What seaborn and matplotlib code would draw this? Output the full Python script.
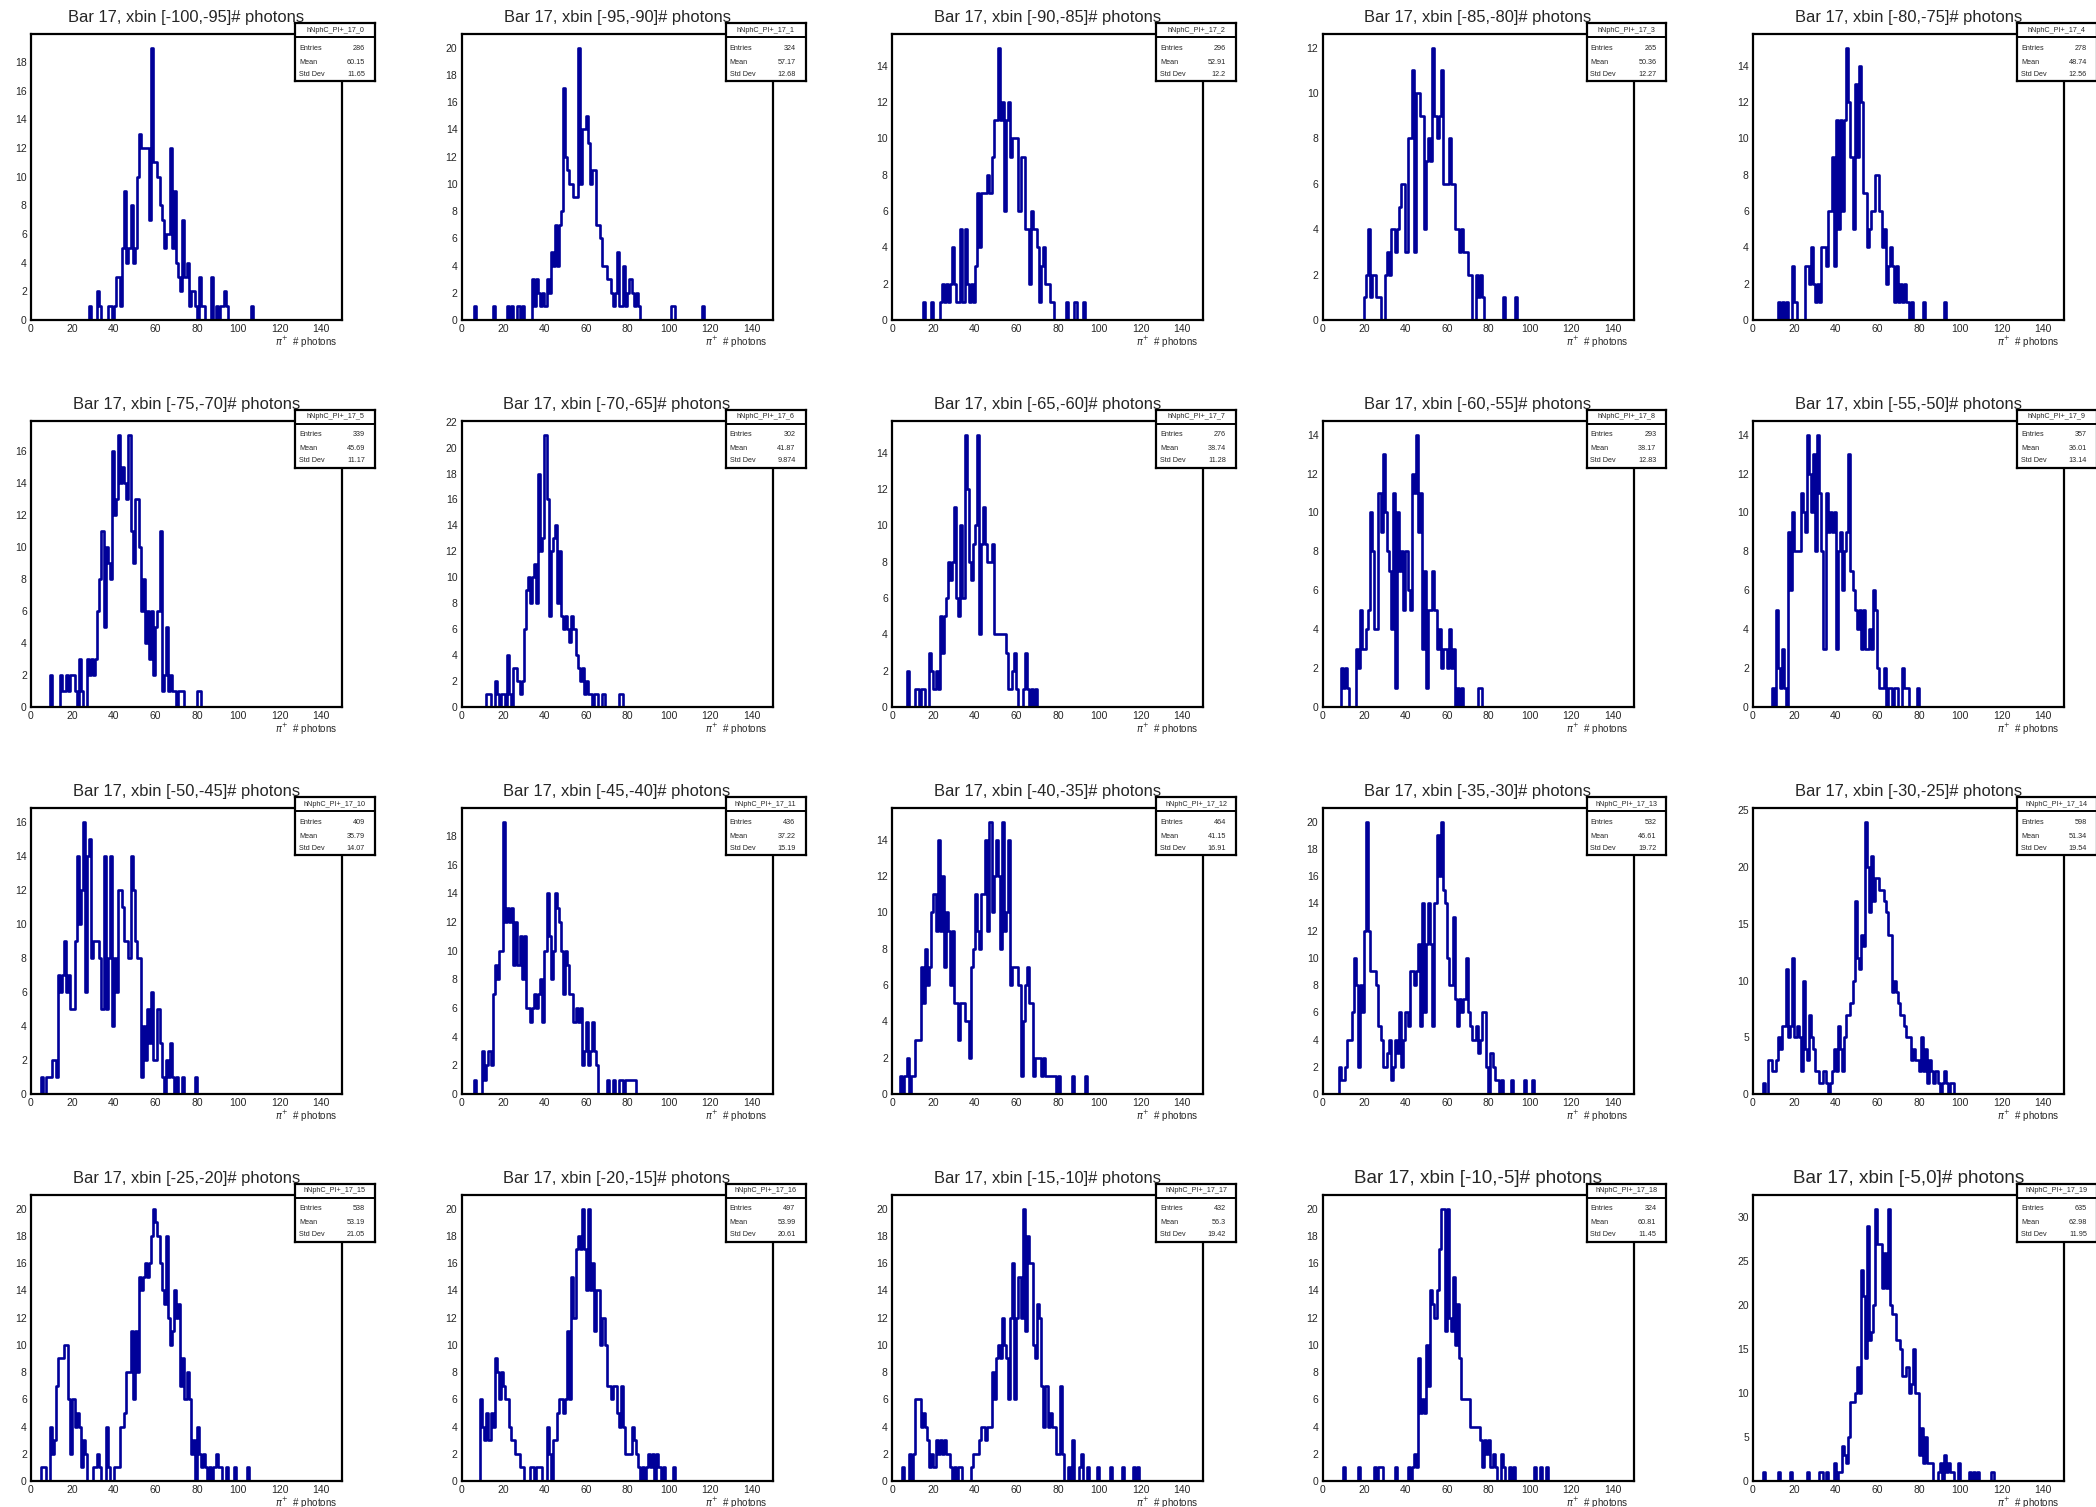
import numpy as np
import pandas as pd
import seaborn as sns
from matplotlib import pyplot as plt
from matplotlib.ticker import MultipleLocator

# %% Data: per panel the first filled bin and the counts of the 1-photon bins

xbins = ['[-100,-95]', '[-95,-90]', '[-90,-85]', '[-85,-80]', '[-80,-75]',
         '[-75,-70]', '[-70,-65]', '[-65,-60]', '[-60,-55]', '[-55,-50]',
         '[-50,-45]', '[-45,-40]', '[-40,-35]', '[-35,-30]', '[-30,-25]',
         '[-25,-20]', '[-20,-15]', '[-15,-10]', '[-10,-5]', '[-5,0]']

entries = [286, 324, 296, 265, 278, 339, 302, 276, 293, 357,
           409, 436, 464, 532, 598, 538, 497, 432, 324, 635]
means = ['60.15', '57.17', '52.91', '50.36', '48.74', '45.69', '41.87', '38.74', '38.17', '36.01',
         '35.79', '37.22', '41.15', '46.61', '51.34', '53.19', '53.99', '56.3', '60.81', '62.98']
stddevs = ['11.65', '12.68', '12.2', '12.27', '12.56', '11.17', '9.874', '11.28', '12.83', '13.14',
           '14.07', '15.19', '16.91', '19.72', '19.54', '21.05', '20.61', '19.42', '11.45', '11.95']

starts = [28, 6, 15, 20, 12, 9, 12, 7, 9, 9,
          5, 6, 4, 8, 5, 5, 9, 5, 10, 5]

c00 = [1, 0, 0, 0, 2, 1, 0, 0, 0, 1,
       1, 0, 1, 3, 3, 1, 5, 9, 4, 5,
       8, 4, 5, 10, 13, 12, 12, 12, 12, 7,
       19, 11, 11, 10, 8, 7, 5, 6, 6, 12,
       5, 9, 4, 3, 2, 7, 3, 4, 1, 2,
       2, 1, 0, 3, 1, 1, 0, 0, 0, 3,
       0, 1, 0, 1, 1, 2, 1, 0, 0, 0,
       0, 0, 0, 0, 0, 0, 0, 0, 1]
c01 = [1, 0, 0, 0, 0, 0, 0, 0, 0, 1,
       0, 0, 0, 0, 0, 0, 1, 0, 1, 0,
       0, 1, 0, 1, 0, 0, 0, 0, 3, 1,
       3, 2, 1, 2, 1, 3, 2, 5, 4, 7,
       4, 7, 8, 17, 12, 11, 10, 10, 9, 9,
       20, 10, 14, 14, 15, 13, 10, 11, 11, 7,
       7, 6, 4, 4, 3, 3, 2, 1, 2, 5,
       1, 1, 4, 1, 2, 3, 2, 1, 2, 1,
       0, 0, 0, 0, 0, 0, 0, 0, 0, 0,
       0, 0, 0, 0, 0, 1, 1, 0, 0, 0,
       0, 0, 0, 0, 0, 0, 0, 0, 0, 0,
       1]
c02 = [1, 0, 0, 0, 1, 0, 0, 0, 1, 2,
       1, 2, 1, 2, 4, 2, 1, 1, 5, 1,
       5, 2, 1, 2, 1, 3, 7, 4, 7, 7,
       7, 8, 7, 9, 11, 11, 15, 11, 12, 6,
       11, 12, 9, 10, 10, 10, 6, 9, 9, 5,
       5, 2, 6, 5, 5, 4, 1, 3, 4, 2,
       2, 1, 1, 0, 0, 0, 0, 0, 0, 1,
       0, 0, 0, 1, 0, 0, 0, 1]
c03 = [1, 2, 4, 1, 2, 2, 1, 1, 0, 0,
       2, 3, 2, 4, 4, 3, 4, 5, 6, 6,
       3, 8, 8, 11, 3, 10, 10, 9, 9, 4,
       7, 8, 7, 12, 9, 8, 9, 11, 6, 6,
       6, 8, 6, 6, 4, 4, 3, 4, 3, 3,
       2, 2, 0, 0, 2, 1, 2, 1, 0, 0,
       0, 0, 0, 0, 0, 0, 0, 1, 0, 0,
       0, 0, 0, 1]
c04 = [1, 0, 1, 0, 1, 0, 0, 3, 1, 0,
       0, 0, 0, 3, 3, 2, 4, 2, 1, 2,
       1, 4, 4, 3, 6, 6, 9, 3, 11, 5,
       11, 6, 11, 15, 12, 9, 5, 13, 9, 14,
       12, 7, 7, 4, 5, 6, 6, 8, 8, 6,
       4, 5, 2, 3, 4, 3, 1, 3, 1, 2,
       1, 2, 1, 0, 1, 0, 0, 0, 0, 0,
       1, 0, 0, 0, 0, 0, 0, 0, 0, 0, 1]
c05 = [2, 0, 0, 0, 0, 2, 1, 1, 2, 1,
       2, 2, 1, 0, 3, 1, 0, 0, 3, 2,
       3, 2, 3, 6, 8, 11, 5, 10, 9, 8,
       16, 12, 13, 17, 14, 15, 14, 13, 17, 11,
       9, 13, 13, 10, 6, 8, 4, 6, 3, 6,
       2, 5, 6, 11, 1, 2, 5, 1, 2, 1,
       1, 0, 1, 1, 1, 0, 0, 0, 0, 0,
       0, 1, 1]
c06 = [1, 1, 0, 0, 2, 1, 0, 1, 1, 0,
       4, 1, 0, 3, 3, 2, 1, 2, 6, 9,
       10, 8, 10, 11, 8, 18, 12, 13, 21, 16,
       7, 12, 13, 14, 8, 12, 7, 6, 7, 6,
       5, 7, 6, 4, 3, 2, 3, 1, 2, 1,
       1, 0, 1, 1, 0, 0, 1, 0, 0, 0,
       0, 0, 0, 0, 1, 1]
c07 = [2, 0, 0, 0, 1, 1, 0, 1, 1, 0,
       0, 3, 2, 1, 2, 1, 5, 3, 5, 6,
       8, 7, 8, 11, 6, 5, 10, 6, 15, 12,
       8, 7, 9, 10, 15, 4, 9, 11, 9, 8,
       8, 9, 4, 4, 4, 4, 4, 4, 3, 1,
       1, 2, 3, 1, 0, 0, 1, 3, 1, 0,
       1, 0, 1]
c08 = [2, 1, 2, 1, 0, 0, 0, 3, 2, 5,
       3, 3, 4, 5, 10, 8, 4, 4, 11, 9,
       13, 10, 8, 7, 4, 11, 1, 10, 7, 8,
       5, 8, 6, 5, 12, 11, 14, 9, 11, 3,
       7, 1, 5, 5, 7, 5, 3, 4, 2, 3,
       3, 2, 4, 2, 3, 0, 1, 0, 1, 0,
       0, 0, 0, 0, 0, 0, 1, 1]
c09 = [1, 0, 5, 2, 1, 3, 1, 0, 9, 6,
       10, 8, 8, 8, 11, 10, 9, 14, 12, 10,
       13, 8, 14, 11, 8, 3, 11, 9, 10, 9,
       10, 3, 8, 9, 6, 8, 9, 13, 7, 6,
       5, 4, 5, 3, 5, 3, 3, 4, 3, 6,
       5, 2, 1, 1, 2, 0, 1, 1, 0, 1,
       1, 0, 0, 2, 1, 1, 0, 0, 0, 0,
       1]
c10 = [1, 0, 1, 1, 1, 2, 2, 1, 7, 6,
       7, 9, 6, 7, 5, 5, 9, 14, 10, 12,
       16, 6, 14, 15, 8, 9, 9, 9, 8, 5,
       14, 5, 8, 14, 4, 8, 6, 12, 12, 11,
       9, 9, 8, 14, 12, 9, 8, 8, 1, 4,
       2, 5, 3, 6, 2, 2, 5, 3, 1, 0,
       2, 1, 3, 1, 0, 1, 0, 0, 1, 0,
       0, 0, 0, 0, 1]
c11 = [1, 0, 0, 0, 3, 1, 2, 3, 2, 7,
       9, 8, 10, 10, 19, 12, 13, 12, 13, 9,
       12, 9, 11, 8, 11, 6, 6, 5, 6, 7,
       6, 7, 8, 5, 10, 14, 11, 8, 10, 14,
       13, 12, 10, 7, 10, 9, 7, 7, 5, 6,
       5, 6, 2, 3, 5, 2, 3, 5, 3, 2,
       0, 0, 0, 0, 1, 0, 0, 1, 0, 0,
       1, 1, 0, 1, 1, 1, 1, 1]
c12 = [1, 0, 1, 2, 0, 1, 1, 3, 3, 3,
       7, 5, 8, 6, 7, 10, 11, 9, 14, 9,
       12, 7, 10, 9, 6, 9, 5, 5, 3, 5,
       5, 4, 4, 2, 7, 8, 11, 9, 8, 11,
       11, 14, 9, 15, 10, 12, 14, 12, 8, 15,
       9, 10, 14, 6, 7, 7, 7, 6, 1, 4,
       6, 7, 5, 5, 1, 2, 2, 2, 1, 2,
       1, 1, 1, 1, 1, 0, 1, 0, 0, 0,
       0, 0, 0, 1, 0, 0, 0, 0, 0, 1]
c13 = [2, 1, 1, 2, 4, 4, 6, 10, 8, 2,
       8, 6, 12, 20, 12, 9, 9, 9, 8, 5,
       4, 2, 2, 3, 4, 1, 2, 4, 3, 6,
       2, 4, 6, 5, 9, 9, 8, 9, 11, 5,
       14, 6, 11, 14, 11, 5, 14, 19, 16, 20,
       15, 14, 10, 8, 8, 13, 7, 5, 7, 6,
       7, 10, 6, 5, 4, 4, 5, 3, 4, 6,
       6, 2, 0, 3, 2, 1, 1, 0, 1, 0,
       0, 0, 0, 1, 0, 0, 0, 0, 0, 1,
       0, 0, 0, 1]
c14 = [1, 0, 3, 3, 2, 2, 3, 5, 4, 6,
       6, 11, 5, 6, 12, 5, 6, 5, 2, 10,
       4, 3, 7, 5, 4, 2, 2, 1, 1, 2,
       1, 0, 1, 2, 4, 2, 6, 4, 2, 5,
       7, 7, 8, 10, 17, 12, 11, 14, 13, 24,
       20, 16, 21, 17, 19, 19, 18, 18, 17, 16,
       14, 14, 9, 10, 9, 8, 7, 7, 6, 5,
       5, 3, 4, 3, 3, 2, 5, 2, 4, 1,
       3, 2, 1, 2, 1, 0, 1, 2, 1, 0, 1, 1]
c15 = [1, 1, 0, 0, 4, 2, 3, 7, 9, 9,
       9, 10, 10, 6, 2, 6, 4, 5, 4, 1,
       3, 2, 0, 0, 0, 1, 1, 2, 1, 0, 0, 4,
       1, 0, 0, 1, 1, 1, 4, 4, 5, 8,
       8, 11, 6, 11, 8, 15, 14, 15, 16, 15,
       16, 18, 20, 19, 18, 16, 14, 13, 18, 12,
       10, 11, 14, 12, 13, 7, 9, 6, 8, 6,
       2, 3, 0, 4, 2, 1, 2, 1, 0, 1,
       0, 1, 2, 1, 1, 0, 0, 1, 0, 0,
       0, 1, 0, 0, 0, 0, 0, 1]
c16 = [6, 4, 3, 5, 3, 5, 4, 9, 8, 6,
       8, 7, 6, 6, 4, 3, 3, 2, 2, 1,
       1, 0, 0, 0, 1, 1, 0, 1, 1, 1, 0, 0,
       4, 2, 0, 3, 3, 5, 6, 6, 5, 6,
       11, 6, 15, 12, 17, 18, 17, 20, 17, 14,
       20, 14, 16, 11, 14, 14, 10, 12, 10, 7,
       7, 6, 7, 7, 5, 4, 7, 4, 2, 2,
       2, 4, 3, 2, 1, 0, 1, 0, 1, 2,
       1, 2, 0, 2, 1, 0, 1, 0, 0, 0, 0, 1]
c17 = [1, 0, 0, 2, 0, 2, 6, 6, 6, 4,
       5, 4, 3, 1, 2, 1, 3, 2, 3, 2,
       3, 2, 2, 1, 0, 1, 0, 1, 1, 0,
       0, 0, 0, 1, 2, 2, 2, 3, 4, 4,
       3, 4, 4, 8, 6, 9, 10, 9, 12, 10,
       9, 6, 12, 16, 6, 12, 15, 12, 20, 11,
       18, 16, 16, 10, 9, 13, 12, 7, 4, 7,
       4, 5, 4, 4, 2, 2, 7, 2, 0, 0,
       1, 0, 3, 0, 0, 1, 2, 0, 0, 1,
       0, 0, 0, 0, 1, 0, 0, 0, 0, 0,
       1, 0, 0, 0, 0, 0, 1, 0, 0, 0, 0, 1, 0, 1]
c18 = [1, 0, 0, 0, 0, 0, 0, 1, 0, 0,
       0, 0, 0, 0, 0, 1, 0, 1, 1, 0,
       0, 0, 0, 0, 0, 1, 0, 0, 0, 0,
       0, 1, 0, 1, 2, 1, 9, 5, 6, 5,
       10, 7, 14, 13, 12, 14, 17, 20, 20, 11,
       20, 12, 11, 15, 10, 13, 9, 6, 6, 6,
       6, 4, 4, 4, 4, 4, 3, 1, 3, 2,
       3, 1, 2, 1, 0, 0, 2, 1, 0, 0,
       1, 0, 1, 0, 0, 0, 0, 0, 0, 0,
       0, 0, 1, 0, 0, 1, 0, 0, 1]
c19 = [1, 0, 0, 0, 0, 0, 0, 1, 0, 0,
       0, 0, 0, 1, 0, 0, 0, 0, 0, 0,
       0, 1, 0, 0, 0, 0, 0, 1, 1, 0,
       1, 0, 0, 0, 2, 0, 1, 1, 4, 3,
       2, 5, 9, 9, 10, 13, 10, 24, 21, 14,
       29, 16, 17, 20, 31, 27, 27, 22, 26, 22,
       31, 20, 19, 19, 16, 16, 15, 12, 12, 13,
       10, 11, 15, 10, 10, 3, 6, 2, 5, 2,
       2, 2, 0, 0, 1, 2, 0, 3, 1, 2,
       1, 1, 0, 0, 2, 0, 0, 0, 0, 1,
       0, 1, 0, 1, 0, 0, 0, 0, 0, 0, 1]

counts = [c00, c01, c02, c03, c04, c05, c06, c07, c08, c09,
          c10, c11, c12, c13, c14, c15, c16, c17, c18, c19]

# %% Style

sns.set_style('white')
plt.rcParams['font.family'] = ['Liberation Sans', 'DejaVu Sans']
LineColor = '#000099'
W, H = 2096, 1507


def px_axes(fig, left, top, width, height):
    return fig.add_axes([left / W, 1 - (top + height) / H, width / W, height / H])


fig = plt.figure(figsize=(W / 100, H / 100), dpi=100)
fig.patch.set_facecolor('white')

for i, cnt in enumerate(counts):
    r, c = divmod(i, 5)
    axL = 31 + c * 430.5
    axT = 34 + r * 387
    ax = px_axes(fig, axL, axT, 311, 286)

    nph = np.arange(starts[i], starts[i] + len(cnt)) + 0.5
    df = pd.DataFrame({'nph': nph, 'n': cnt})
    sns.histplot(data=df, x='nph', weights='n', binwidth=1, binrange=(0, 150),
                 element='step', fill=False, color=LineColor,
                 linewidth=1.9, ax=ax)

    ymax = max(cnt)
    ax.set_xlim(0, 150)
    ax.set_ylim(0, 1.05 * ymax)
    ax.set_xlabel('')
    ax.set_ylabel('')
    ax.xaxis.set_major_locator(MultipleLocator(20))
    ax.xaxis.set_minor_locator(MultipleLocator(5))
    if ymax * 1.05 > 23:
        ax.yaxis.set_major_locator(MultipleLocator(5))
        ax.yaxis.set_minor_locator(MultipleLocator(1))
    else:
        ax.yaxis.set_major_locator(MultipleLocator(2))
        ax.yaxis.set_minor_locator(MultipleLocator(0.4))
    ax.tick_params(which='both', direction='in', top=False, right=False,
                   labelsize=7.5, width=1.3, pad=3)
    ax.tick_params(which='major', length=6.5)
    ax.tick_params(which='minor', length=3.2)
    for sp in ax.spines.values():
        sp.set_linewidth(1.6)
        sp.set_color('black')

    tsize = 13.6 if i >= 18 else 11.9
    ax.text(0.5, 1 + 12 / 286, f'Bar 17, xbin {xbins[i]}# photons',
            transform=ax.transAxes, ha='center', va='baseline', fontsize=tsize)
    ax.text(1 - 5 / 311, -22 / 286, r'$\pi^{+}$  # photons', transform=ax.transAxes,
            ha='right', va='center', fontsize=7)

    # stats box
    sb = px_axes(fig, axL + 264, axT - 11, 80, 58)
    sb.set_xticks([])
    sb.set_yticks([])
    sb.set_facecolor('white')
    for sp in sb.spines.values():
        sp.set_linewidth(1.6)
        sp.set_color('black')
    sb.axhline(1 - 14 / 58, color='black', linewidth=1.4)
    sb.text(0.5, 1 - 7 / 58, f'hNphC_PI+_17_{i}', ha='center', va='center', fontsize=5.2)
    rows = [('Entries', str(entries[i])), ('Mean', means[i]), ('Std Dev', stddevs[i])]
    for (lab, val), yy in zip(rows, (25, 39, 51)):
        sb.text(0.05, 1 - yy / 58, lab, ha='left', va='center', fontsize=5.2)
        sb.text(0.875, 1 - yy / 58, val, ha='right', va='center', fontsize=5.2)

fig.savefig('out.png', dpi=100, facecolor='white')
